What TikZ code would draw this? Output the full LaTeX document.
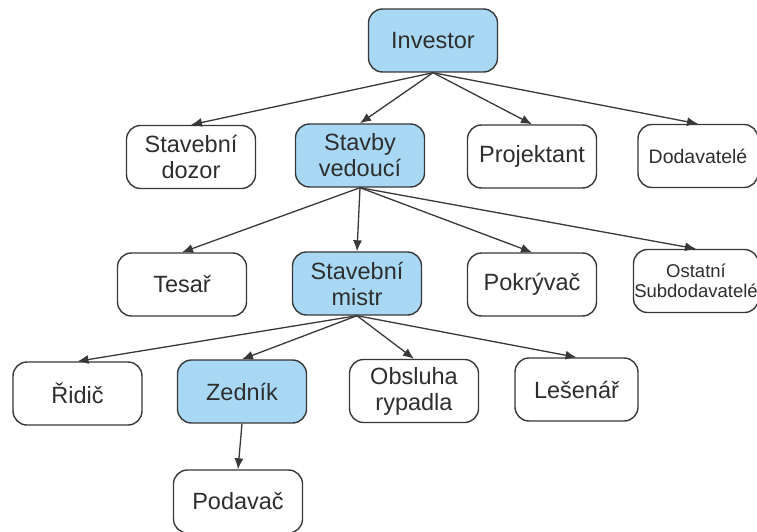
\documentclass[tikz,border=0pt]{standalone}
\usepackage{fontspec}
\setmainfont{Liberation Sans}
\usetikzlibrary{arrows.meta}
\definecolor{boxblue}{HTML}{A8D8F4}
\definecolor{edgegray}{HTML}{383838}
\definecolor{txtgray}{HTML}{2E2E2E}
\tikzset{
  box/.style={draw=edgegray, line width=1.4pt, rounded corners=14pt, fill=white,
    minimum width=129pt, minimum height=63pt, inner sep=0pt, align=center,
    text=txtgray, font=\fontsize{23.5}{26}\selectfont},
  hl/.style={box, fill=boxblue},
  conn/.style={draw=edgegray, line width=1.3pt, -{Latex[length=11pt,width=9pt]}}
}
\begin{document}
\begin{tikzpicture}[x=1pt,y=-1pt]
\useasboundingbox (0,0) rectangle (757,532);
\node[hl] (inv) at (433,40.5) {Investor};
\node[box] (dozor) at (191,157) {Stavební\\dozor};
\node[hl] (sv) at (360,155.5) {Stavby\\vedoucí};
\node[box] (proj) at (532,156.5) {Projektant};
\node[box, minimum width=120pt, font=\fontsize{19.5}{22}\selectfont] (dod) at (698,156) {Dodavatelé};
\node[box] (tesar) at (182,284.5) {Tesař};
\node[hl] (mistr) at (357,283.5) {Stavební\\mistr};
\node[box] (pokr) at (532,284.5) {Pokrývač};
\node[box, minimum width=125pt, font=\fontsize{18.5}{20}\selectfont] (ost) at (696,281) {Ostatní\\Subdodavatelé};
\node[box] (ridic) at (77.5,393.5) {Řidič};
\node[hl] (zed) at (242,391.5) {Zedník};
\node[box] (obs) at (414,391) {Obsluha\\rypadla};
\node[box, minimum width=123pt] (les) at (576.5,389.5) {Lešenář};
\node[box] (pod) at (238,501.5) {Podavač};
\draw[conn] (inv.south) -- (dozor.north);
\draw[conn] (inv.south) -- (sv.north);
\draw[conn] (inv.south) -- (proj.north);
\draw[conn] (inv.south) -- (dod.north);
\draw[conn] (sv.south) -- (tesar.north);
\draw[conn] (sv.south) -- (mistr.north);
\draw[conn] (sv.south) -- (pokr.north);
\draw[conn] (sv.south) -- (ost.north);
\draw[conn] (mistr.south) -- (ridic.north);
\draw[conn] (mistr.south) -- (zed.north);
\draw[conn] (mistr.south) -- (obs.north);
\draw[conn] (mistr.south) -- (les.north);
\draw[conn] (zed.south) -- (pod.north);
\end{tikzpicture}
\end{document}
